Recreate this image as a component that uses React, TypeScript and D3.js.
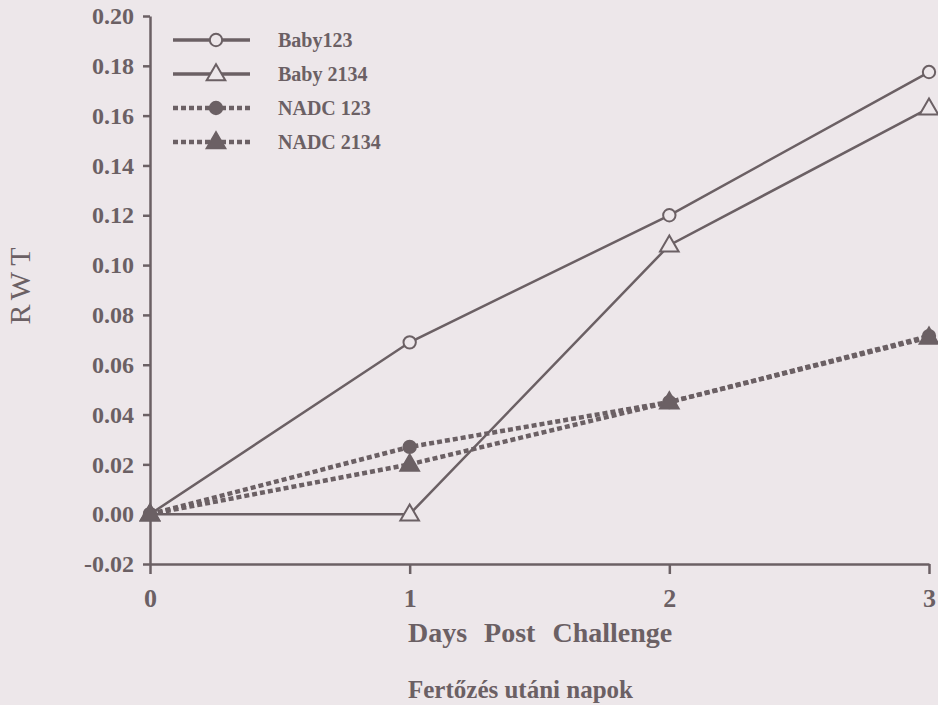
import React, { useEffect, useRef } from 'react'
import * as d3 from 'd3'

const width = 938
const height = 705
const ink = '#6b6064'
const paper = '#ede7ea'
const font = '"Liberation Serif", "DejaVu Serif", serif'

const days = [0, 1, 2, 3]
const baby123 = [0, 0.069, 0.12, 0.1775]
const baby2134 = [0, 0, 0.108, 0.163]
const nadc123 = [0, 0.027, 0.045, 0.0715]
const nadc2134 = [0, 0.02, 0.045, 0.071]
const seriesNames = ['Baby123', 'Baby 2134', 'NADC 123', 'NADC 2134']

const x = d3.scaleLinear().domain([0, 3]).range([150, 929])
const y = d3.scaleLinear().domain([-0.02, 0.2]).range([564, 16])

const series = [
  { name: seriesNames[0], values: baby123, dashed: false, marker: 'circle', filled: false },
  { name: seriesNames[1], values: baby2134, dashed: false, marker: 'triangle', filled: false },
  { name: seriesNames[2], values: nadc123, dashed: true, marker: 'circle', filled: true },
  { name: seriesNames[3], values: nadc2134, dashed: true, marker: 'triangle', filled: true },
]

const line = d3.line<number>()
  .x((d, i) => x(days[i]))
  .y(d => y(d))

const symbolPath = (kind: string) =>
  d3.symbol().type(kind === 'circle' ? d3.symbolCircle : d3.symbolTriangle)
    .size(kind === 'circle' ? 120 : 150)()

const Marker = ({ s, cx, cy }: any) => (
  <path
    d={symbolPath(s.marker) || ''}
    transform={`translate(${cx},${cy + (s.marker === 'triangle' ? 1 : 0)})`}
    fill={s.filled ? ink : paper}
    stroke={ink}
    strokeWidth={2}
  />
)

// hyphen instead of unicode minus, like the printed figure
const fmt = (d: number) => d3.format('.2f')(d).replace('−', '-')

export default function App() {
  const yAxisRef = useRef<SVGGElement>(null)
  const xAxisRef = useRef<SVGGElement>(null)

  useEffect(() => {
    const ya = d3.select(yAxisRef.current!)
    ya.call(
      d3.axisLeft(y)
        .ticks(11)
        .tickFormat(fmt as any)
        .tickSize(7)
        .tickSizeOuter(0)
        .tickPadding(9)
    )
    const xa = d3.select(xAxisRef.current!)
    xa.call(
      d3.axisBottom(x)
        .tickValues(days)
        .tickFormat(d3.format('d') as any)
        .tickSize(10)
        .tickSizeOuter(0)
        .tickPadding(15)
    )
    for (const g of [ya, xa]) {
      g.selectAll('path, line').attr('stroke', ink).attr('stroke-width', 2.5)
      g.selectAll('text')
        .attr('fill', ink)
        .attr('font-family', font)
        .attr('font-weight', 'bold')
    }
    ya.selectAll('text').attr('font-size', 24)
    xa.selectAll('text').attr('font-size', 26)
  }, [])

  return (
    <div style={{ position: 'absolute', left: 0, top: 0 }}>
      <svg width={width} height={height} style={{ display: 'block', background: paper }}>
        <g ref={yAxisRef} transform={`translate(${x(0)},0)`} />
        <g ref={xAxisRef} transform={`translate(0,${y(-0.02)})`} />

        {series.map(s => (
          <path
            key={s.name}
            d={line(s.values) || ''}
            fill="none"
            stroke={ink}
            strokeWidth={s.dashed ? 4.5 : 2.5}
            strokeDasharray={s.dashed ? '5 3' : undefined}
          />
        ))}
        {series.map(s => (
          <g key={s.name + '-m'}>
            {s.values.map((v, i) => (
              <Marker key={i} s={s} cx={x(days[i])} cy={y(v)} />
            ))}
          </g>
        ))}

        {series.map((s, i) => {
          const ly = 40 + i * 34
          return (
            <g key={s.name + '-legend'}>
              <line
                x1={173} x2={250} y1={ly} y2={ly}
                stroke={ink}
                strokeWidth={s.dashed ? 4.5 : 3.5}
                strokeDasharray={s.dashed ? '5 3' : undefined}
              />
              <Marker s={s} cx={216} cy={ly} />
              <text
                x={278} y={ly} dy="0.35em"
                fontFamily={font} fontWeight="bold" fontSize={20} fill={ink}
              >
                {s.name}
              </text>
            </g>
          )
        })}

        <text
          transform="translate(30,283) rotate(-90)"
          textAnchor="middle"
          fontFamily={font} fontSize={30} letterSpacing={6} fill={ink}
        >
          RWT
        </text>
        <text
          x={408} y={642}
          fontFamily={font} fontWeight="bold" fontSize={28} wordSpacing={10} fill={ink}
        >
          Days Post Challenge
        </text>
        <text
          x={408} y={698}
          fontFamily={font} fontWeight="bold" fontSize={25} fill={ink}
        >
          Fertőzés utáni napok
        </text>
      </svg>
    </div>
  )
}
